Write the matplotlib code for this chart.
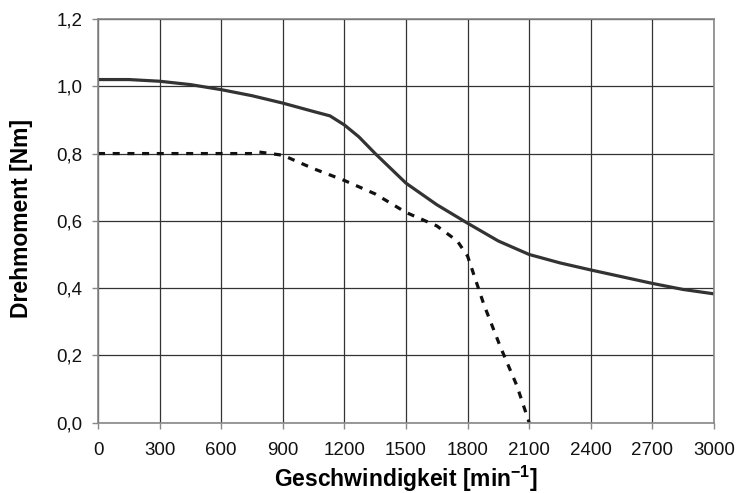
import matplotlib
matplotlib.use("Agg")
import matplotlib.pyplot as plt

plt.rcParams['font.family'] = ['Liberation Sans', 'DejaVu Sans']
plt.rcParams['mathtext.fontset'] = 'custom'
plt.rcParams['mathtext.rm'] = 'Liberation Sans'
plt.rcParams['mathtext.bf'] = 'Liberation Sans:bold'

# Data
speed_solid = [0, 150, 300, 450, 600, 750, 900, 1050, 1130, 1200, 1270, 1350, 1500, 1650, 1800, 1950, 2100, 2250, 2400, 2550, 2700, 2850, 3000]
torque_solid = [1.02, 1.02, 1.015, 1.005, 0.99, 0.972, 0.95, 0.925, 0.912, 0.885, 0.85, 0.80, 0.712, 0.648, 0.593, 0.54, 0.50, 0.475, 0.454, 0.434, 0.414, 0.396, 0.383]

speed_dash = [0, 300, 600, 750, 780, 900, 1050, 1200, 1350, 1500, 1650, 1750, 1800, 1880, 1960, 2040, 2100]
torque_dash = [0.80, 0.80, 0.80, 0.80, 0.805, 0.795, 0.755, 0.72, 0.68, 0.625, 0.585, 0.54, 0.495, 0.35, 0.225, 0.11, 0.0]

xticks = [0, 300, 600, 900, 1200, 1500, 1800, 2100, 2400, 2700, 3000]
yticks = [0.0, 0.2, 0.4, 0.6, 0.8, 1.0, 1.2]
ytick_labels = ['0,0', '0,2', '0,4', '0,6', '0,8', '1,0', '1,2']

fig = plt.figure(figsize=(7.37, 4.93), dpi=100)
ax_h = 422.7 - 19
ax = fig.add_axes([98/737, 1 - 422.7/493, 616/737, ax_h/493])

ax.plot(speed_solid, torque_solid, color='#333333', lw=2.3, solid_capstyle='butt')
ax.plot(speed_dash, torque_dash, color='#111111', lw=2.3, dashes=(2.2, 2.4))

ax.set_xlim(0, 3000)
ax.set_ylim(0, 1.2)
ax.set_xticks(xticks)
ax.set_xticklabels([str(v) for v in xticks])
ax.set_yticks(yticks)
ax.set_yticklabels(ytick_labels)

ax.grid(True, color='#333333', lw=0.9)
ax.set_axisbelow(True)
for s in ax.spines.values():
    s.set_color('#888888')
    s.set_linewidth(1.2)
ax.tick_params(direction='out', length=4, width=1, color='#888888', labelsize=13.5, labelcolor='#111111')
ax.tick_params(axis='x', pad=10)
ax.tick_params(axis='y', pad=7)

ax.set_xlabel(r'Geschwindigkeit [min$^{\mathbf{-1}}$]', fontsize=16.5, fontweight='bold', va='center')
ax.xaxis.set_label_coords(0.5, (422.7 - 479) / ax_h)
ax.set_ylabel('Drehmoment [Nm]', fontsize=16.5, fontweight='bold', va='center')
ax.yaxis.set_label_coords((22 - 98) / 616, (422.7 - 218) / ax_h)

fig.savefig('out.png', dpi=100)
